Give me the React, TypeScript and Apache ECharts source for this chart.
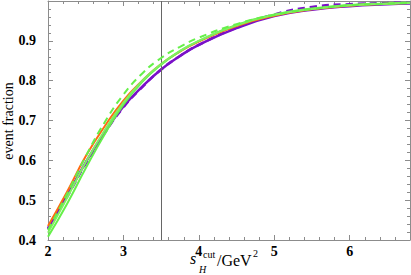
import React, { useEffect, useRef } from "react";
import * as echarts from "echarts";

const xs = [2, 2.25, 2.5, 2.75, 3, 3.25, 3.5, 3.75, 4, 4.5, 5, 5.5, 6, 6.5, 6.8];
const purpleSolid = [0.43, 0.51, 0.595, 0.67, 0.735, 0.785, 0.828, 0.862, 0.89, 0.932, 0.962, 0.978, 0.987, 0.992, 0.994];
const purpleDashed = [0.427, 0.507, 0.592, 0.668, 0.733, 0.784, 0.828, 0.862, 0.89, 0.933, 0.966, 0.985, 0.992, 0.995, 0.996];
const orangeSolid = [0.435, 0.52, 0.61, 0.685, 0.75, 0.8, 0.842, 0.873, 0.898, 0.937, 0.963, 0.979, 0.988, 0.993, 0.995];
const greenDashed = [0.425, 0.515, 0.61, 0.695, 0.765, 0.818, 0.857, 0.885, 0.908, 0.942, 0.965, 0.98, 0.989, 0.993, 0.995];
const greenSolidA = [0.408, 0.49, 0.58, 0.665, 0.74, 0.797, 0.84, 0.874, 0.9, 0.94, 0.966, 0.981, 0.99, 0.994, 0.996];
const greenSolidB = [0.418, 0.505, 0.595, 0.675, 0.745, 0.8, 0.842, 0.875, 0.9, 0.939, 0.965, 0.98, 0.989, 0.993, 0.995];
const cutValue = 3.5;
const xTicks = [2, 3, 4, 5, 6];
const yTicks = [0.4, 0.5, 0.6, 0.7, 0.8, 0.9];

const pairs = (ys: number[]) => xs.map((x, i) => [x, ys[i]]);

const SERIF = "'Liberation Serif', 'DejaVu Serif', serif";
const FRAME = "#8c8c8c";

export default function App() {
  const ref = useRef<HTMLDivElement>(null);
  useEffect(() => {
    if (!ref.current) return;
    const chart = echarts.init(ref.current, null, { renderer: "svg" });
    const baseX = {
      type: "value" as const,
      min: 2,
      max: 6.8,
      interval: 1,
      axisLine: { show: true, onZero: false, lineStyle: { color: FRAME, width: 1 } },
      axisTick: { show: true, inside: true, length: 5, lineStyle: { color: FRAME } },
      minorTick: { show: true, splitNumber: 5, length: 3, lineStyle: { color: FRAME } },
      splitLine: { show: false },
    };
    const baseY = {
      type: "value" as const,
      min: 0.4,
      max: 1.0,
      interval: 0.1,
      axisLine: { show: true, onZero: false, lineStyle: { color: FRAME, width: 1 } },
      axisTick: { show: true, inside: true, length: 5, lineStyle: { color: FRAME } },
      minorTick: { show: true, splitNumber: 5, length: 3, lineStyle: { color: FRAME } },
      splitLine: { show: false },
    };
    const lineSeries = (data: number[], color: string, width: number, dashed: boolean, z: number) => ({
      type: "line" as const,
      data: pairs(data),
      smooth: true,
      showSymbol: false,
      symbol: "none",
      clip: false,
      z,
      lineStyle: { color, width, type: dashed ? [7, 5] : "solid" },
    });
    chart.setOption({
      animation: false,
      grid: { left: 48, right: 1, top: 1, bottom: 35 },
      xAxis: [
        {
          ...baseX,
          position: "bottom",
          axisLabel: {
            show: true,
            margin: 4,
            fontFamily: SERIF,
            fontWeight: "bold",
            fontSize: 14,
            color: "#000",
            showMaxLabel: false,
            formatter: (v: number) => (xTicks.includes(v) ? String(v) : ""),
          },
        },
        { ...baseX, position: "top", axisLabel: { show: false } },
      ],
      yAxis: [
        {
          ...baseY,
          position: "left",
          axisLabel: {
            show: true,
            margin: 12,
            fontFamily: SERIF,
            fontWeight: "bold",
            fontSize: 14,
            color: "#000",
            showMaxLabel: false,
            formatter: (v: number) => {
              const r = Math.round(v * 10) / 10;
              return yTicks.some((t) => Math.abs(t - r) < 1e-9) && Math.abs(v - r) < 1e-9 ? r.toFixed(1) : "";
            },
          },
        },
        { ...baseY, position: "right", axisLabel: { show: false } },
      ],
      series: [
        {
          ...lineSeries(purpleDashed, "#7a10c8", 2.5, true, 2),
          markLine: {
            silent: true,
            symbol: "none",
            label: { show: false },
            lineStyle: { color: "#666", width: 1, type: "solid" },
            data: [{ xAxis: cutValue }],
          },
        },
        lineSeries(purpleSolid, "#7a10c8", 2.5, false, 3),
        lineSeries(orangeSolid, "#ff6a10", 2, false, 4),
        lineSeries(greenSolidA, "#66f04a", 2, false, 5),
        lineSeries(greenSolidB, "#7ff060", 2, false, 5),
        lineSeries(greenDashed, "#66f04a", 2, true, 6),
      ],
      graphic: [
        {
          type: "text",
          x: 8,
          y: 121,
          rotation: Math.PI / 2,
          style: {
            text: "event fraction",
            font: `14px ${SERIF}`,
            fill: "#000",
            textAlign: "center",
            textVerticalAlign: "middle",
          },
        },
        {
          type: "text",
          x: 190,
          y: 266,
          style: { text: "s", font: `italic 16px ${SERIF}`, fill: "#000", textVerticalAlign: "bottom" },
        },
        {
          type: "text",
          x: 203,
          y: 259,
          style: { text: "cut", font: `10px ${SERIF}`, fill: "#000", textVerticalAlign: "bottom" },
        },
        {
          type: "text",
          x: 199,
          y: 274,
          style: { text: "H", font: `italic 10px ${SERIF}`, fill: "#000", textVerticalAlign: "bottom" },
        },
        {
          type: "text",
          x: 217,
          y: 268,
          style: { text: "/GeV", font: `16px ${SERIF}`, fill: "#000", textVerticalAlign: "bottom" },
        },
        {
          type: "text",
          x: 253,
          y: 258,
          style: { text: "2", font: `10px ${SERIF}`, fill: "#000", textVerticalAlign: "bottom" },
        },
      ],
    });
    return () => chart.dispose();
  }, []);
  return <div ref={ref} style={{ position: "absolute", left: 0, top: 0, width: 411, height: 275 }} />;
}
